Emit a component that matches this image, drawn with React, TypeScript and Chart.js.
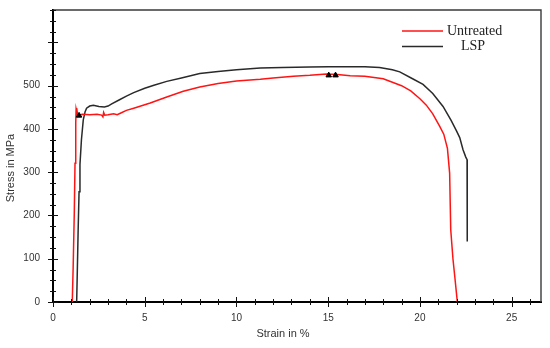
import React, { useEffect, useRef } from "react";
import { Chart, registerables } from "chart.js";

Chart.register(...registerables);

// Strain (%) / stress (MPa)
const untreatedStrain = [1.05, 1.1, 1.16, 1.2, 1.24, 1.26, 1.28, 1.3, 1.33, 1.4, 1.6, 2.0, 2.4, 2.65, 2.72, 2.76, 2.82, 3.0, 3.3, 3.5, 3.7, 4.0, 4.4, 5.0, 5.3, 6.2, 7.1, 8.0, 9.0, 10.0, 11.3, 12.0, 13.1, 14.0, 14.9, 15.5, 16.2, 17.0, 18.0, 18.5, 19.0, 19.5, 20.0, 20.35, 20.7, 21.08, 21.3, 21.5, 21.62, 21.68, 21.8, 21.9, 22.04];
const untreatedStress = [0, 82, 205, 321, 414, 446, 440, 448, 436, 432, 434, 433, 434, 432, 428, 438, 432, 433, 435, 433, 437, 443, 448, 456, 460, 474, 487, 497, 505, 511, 515, 518, 522, 524, 527, 526, 523, 522, 516, 508, 500, 488, 470, 455, 435, 406, 388, 355, 298, 167, 100, 59, 0];

const lspStrain = [1.29, 1.32, 1.37, 1.42, 1.47, 1.55, 1.65, 1.75, 1.83, 2.0, 2.2, 2.5, 2.8, 3.0, 3.2, 3.6, 4.0, 4.4, 5.0, 5.5, 6.2, 7.0, 8.0, 9.0, 10.0, 11.3, 12.5, 14.0, 15.0, 16.2, 17.0, 17.8, 18.5, 18.9, 19.6, 20.17, 20.7, 21.26, 21.7, 22.0, 22.17, 22.35, 22.5, 22.57, 22.58];
const lspStress = [0, 60, 165, 255, 318, 375, 421, 440, 448, 453, 455, 452, 451, 453, 458, 467, 476, 484, 494, 501, 510, 518, 528, 533, 537, 541, 542, 543, 544, 544, 544, 542, 537, 532, 516, 503, 482, 452, 420, 395, 380, 352, 335, 329, 140];

const markerStrain = [1.42, 15.03, 15.4];
const markerStress = [431, 524, 524];

const seriesNames = ["Untreated", "LSP"];
const xTitle = "Strain in %";
const yTitle = "Stress in MPa";
const xMax = 26.6;
const yMax = 675;
const xLabelTicks = [0, 5, 10, 15, 20, 25];
const yLabelTicks = [0, 100, 200, 300, 400, 500];

const toPoints = (xs: number[], ys: number[]) => xs.map((x, i) => ({ x, y: ys[i] }));

const RED = "#ff1414";
const BLACK = "#2a2a2a";
const SANS = "'Liberation Sans', Arial, sans-serif";
const SERIF = "'Liberation Serif', 'Times New Roman', serif";

const decor = {
  id: "decor",
  afterDraw(chart: any) {
    const ctx = chart.ctx;
    const area = chart.chartArea;
    const xs = chart.scales.x;
    const ys = chart.scales.y;
    const L = area.left;
    const R = area.right;
    const T = area.top;
    const B = area.bottom;
    ctx.save();
    // top and right frame
    ctx.beginPath();
    ctx.strokeStyle = "#3a3a3a";
    ctx.lineWidth = 1.4;
    ctx.moveTo(L, T);
    ctx.lineTo(R, T);
    ctx.lineTo(R, B);
    ctx.stroke();
    // crossing tick marks
    ctx.beginPath();
    ctx.strokeStyle = "#111";
    ctx.lineWidth = 1;
    for (let v = 0; v <= Math.floor(xMax); v += 1) {
      const px = Math.round(xs.getPixelForValue(v)) + 0.5;
      const len = v % 5 === 0 ? 5 : 3;
      ctx.moveTo(px, B - len);
      ctx.lineTo(px, B + len);
    }
    for (let v = 0; v <= yMax; v += 25) {
      const py = Math.round(ys.getPixelForValue(v)) + 0.5;
      const len = v % 100 === 0 ? 5 : 3;
      ctx.moveTo(L - len, py);
      ctx.lineTo(L + len, py);
    }
    ctx.stroke();
    // axis titles
    ctx.fillStyle = "#333";
    ctx.font = `11px ${SANS}`;
    ctx.textAlign = "center";
    ctx.textBaseline = "middle";
    ctx.fillText(xTitle, 283, 334);
    ctx.save();
    ctx.translate(11, 168);
    ctx.rotate(-Math.PI / 2);
    ctx.fillText(yTitle, 0, 0);
    ctx.restore();
    // legend
    const items = [
      { name: seriesNames[0], color: RED, y: 31, tx: 447, align: "left" },
      { name: seriesNames[1], color: BLACK, y: 46.5, tx: 473, align: "center" },
    ];
    ctx.font = `14px ${SERIF}`;
    items.forEach((it) => {
      ctx.beginPath();
      ctx.strokeStyle = it.color;
      ctx.lineWidth = 1.5;
      ctx.moveTo(402, it.y);
      ctx.lineTo(443, it.y);
      ctx.stroke();
      ctx.fillStyle = "#222";
      ctx.textAlign = it.align as CanvasTextAlign;
      ctx.fillText(it.name, it.tx, it.y);
    });
    ctx.restore();
  },
};

export default function App() {
  const ref = useRef<HTMLCanvasElement | null>(null);
  useEffect(() => {
    if (!ref.current) return;
    const chart = new Chart(ref.current, {
      type: "scatter",
      data: {
        datasets: [
          {
            label: "markers",
            data: toPoints(markerStrain, markerStress),
            pointStyle: "triangle",
            pointRadius: 3.2,
            backgroundColor: "#000",
            borderColor: "#000",
            showLine: false,
            order: 0,
          },
          {
            label: seriesNames[0],
            data: toPoints(untreatedStrain, untreatedStress),
            showLine: true,
            borderColor: RED,
            borderWidth: 1.5,
            pointRadius: 0,
            tension: 0,
            order: 1,
          },
          {
            label: seriesNames[1],
            data: toPoints(lspStrain, lspStress),
            showLine: true,
            borderColor: BLACK,
            borderWidth: 1.5,
            pointRadius: 0,
            tension: 0,
            order: 2,
          },
        ],
      },
      options: {
        responsive: false,
        animation: false,
        layout: { padding: { left: 0, top: 10, right: 9, bottom: 0 } },
        plugins: { legend: { display: false }, tooltip: { enabled: false } },
        scales: {
          x: {
            type: "linear",
            min: 0,
            max: xMax,
            grid: { display: false, drawTicks: false },
            border: { display: true, color: "#000", width: 2 },
            afterFit: (s: any) => {
              s.height = 46;
              s.paddingLeft = 0;
              s.paddingRight = 0;
            },
            afterBuildTicks: (s: any) => {
              s.ticks = xLabelTicks.map((value) => ({ value }));
            },
            ticks: {
              autoSkip: false,
              maxRotation: 0,
              padding: 10,
              color: "#333",
              font: { family: SANS, size: 10 },
            },
          },
          y: {
            type: "linear",
            min: 0,
            max: yMax,
            grid: { display: false, drawTicks: false },
            border: { display: true, color: "#000", width: 2 },
            afterFit: (s: any) => {
              s.width = 53;
              s.paddingTop = 0;
              s.paddingBottom = 0;
            },
            afterBuildTicks: (s: any) => {
              s.ticks = yLabelTicks.map((value) => ({ value }));
            },
            ticks: {
              autoSkip: false,
              padding: 13,
              color: "#333",
              font: { family: SANS, size: 10 },
            },
          },
        },
      },
      plugins: [decor],
    });
    return () => chart.destroy();
  }, []);
  return (
    <div style={{ position: "absolute", left: 0, top: 0, width: 550, height: 348, background: "#fff" }}>
      <canvas ref={ref} width={550} height={348} style={{ display: "block" }} />
    </div>
  );
}
